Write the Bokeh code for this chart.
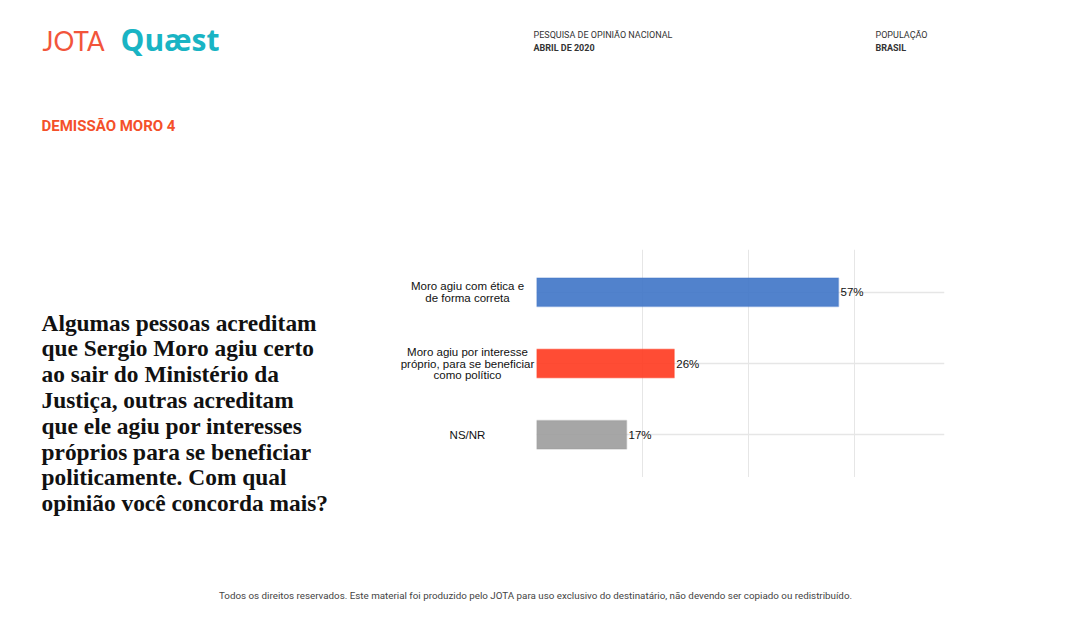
from bokeh.plotting import figure
from bokeh.models import ColumnDataSource, FactorRange, Label, LabelSet, FixedTicker, Range1d
from bokeh.layouts import row, column
from bokeh.core.properties import value
from bokeh.embed import file_html
from bokeh.resources import INLINE

# ---- data ----
categories = [
    "Moro agiu com ética e\nde forma correta",
    "Moro agiu por interesse\npróprio, para se beneficiar\ncomo político",
    "NS/NR",
]
values = [57, 26, 17]
bar_colors = ["#3E74C6", "#FF381E", "#9C9C9C"]
grid_ticks = [0, 20, 40, 60]

question_lines = [
    "Algumas pessoas acreditam",
    "que Sergio Moro agiu certo",
    "ao sair do Ministério da",
    "Justiça, outras acreditam",
    "que ele agiu por interesses",
    "próprios para se beneficiar",
    "politicamente. Com qual",
    "opinião você concorda mais?",
]
title_text = "DEMISSÃO MORO 4"
header_left = ["PESQUISA DE OPINIÃO NACIONAL", "ABRIL DE 2020"]
header_right = ["POPULAÇÃO", "BRASIL"]
footer_text = ("Todos os direitos reservados. Este material foi produzido pelo JOTA para uso "
               "exclusivo do destinatário, não devendo ser copiado ou redistribuído.")

src = ColumnDataSource(dict(
    cat=categories,
    val=values,
    color=bar_colors,
    txt=[f"{v}%" for v in values],
))

# one row per printed line of each category label, each line centred
LINE_H = 11.8
lab_cat, lab_line, lab_off = [], [], []
for c in categories:
    parts = c.split("\n")
    n = len(parts)
    for i, part in enumerate(parts):
        lab_cat.append(c)
        lab_line.append(part)
        lab_off.append(((n - 1) / 2 - i) * LINE_H)
lab_src = ColumnDataSource(dict(cat=lab_cat, line=lab_line, off=lab_off))


def blank(w, h, **kw):
    f = figure(width=w, height=h, output_backend="svg", toolbar_location=None,
               x_range=Range1d(0, 1), y_range=kw.pop("y_range", Range1d(0, 1)),
               min_border=0, **kw)
    f.xaxis.visible = False
    f.yaxis.visible = False
    f.grid.visible = False
    f.outline_line_color = None
    f.background_fill_color = "white"
    f.border_fill_color = "white"
    return f


def lab(f, text, x, y, size, font="Roboto", style="normal", color="#222222",
        align="left"):
    # x, y: pixels from the panel's top-left corner (y = vertical middle of text)
    f.add_layout(Label(x=x, y=f.height - y, x_units="screen", y_units="screen",
                       text=text, text_font=font, text_font_size=size,
                       text_font_style=style, text_color=color,
                       text_align=align, text_baseline="middle"))


# ---- left panel: logos, section title, question ----
L = blank(390, 580)
lab(L, "JOTA", 42, 40, "26px", font="Lato", color="#F2553B")
lab(L, "Quæst", 120, 39, "30px", font="Open Sans", style="bold", color="#19B4C4")
lab(L, title_text, 41, 125, "15px", style="bold", color="#F4502A")
for i, line in enumerate(question_lines):
    lab(L, line, 41, 322 + i * 25.8, "23.4px", font="Liberation Serif", style="bold",
        color="#111111")

# ---- header panel ----
Hd = blank(680, 249)
lab(Hd, header_left[0], 143, 34.5, "9px", color="#333333")
lab(Hd, header_left[1], 143, 47, "9px", style="bold", color="#333333")
lab(Hd, header_right[0], 485, 34.5, "9px", color="#333333")
lab(Hd, header_right[1], 485, 47, "9px", style="bold", color="#333333")

# ---- chart ----
yr = FactorRange(factors=list(reversed(categories)), range_padding=0.0667)
C = figure(width=534, height=228, y_range=yr, x_range=(0, 77),
           output_backend="svg", toolbar_location=None,
           min_border_left=0, min_border_right=126, min_border_top=0, min_border_bottom=0)
C.outline_line_color = None
C.background_fill_color = "white"
C.border_fill_color = "white"
C.xaxis.visible = False
C.yaxis.visible = False
C.xgrid.ticker = FixedTicker(ticks=grid_ticks)
C.xgrid.grid_line_color = "#E6E6E6"
C.ygrid.grid_line_color = "#E6E6E6"
C.ygrid.grid_line_width = 1.5
C.hbar(y="cat", left=0, right="val", height=0.4, fill_color="color",
       fill_alpha=0.9, line_color="color", line_alpha=0.35, line_width=1.5, source=src)
C.add_layout(LabelSet(x="val", y="cat", text="txt", source=src, x_offset=2,
                      text_baseline="middle", text_align="left",
                      text_font=value("Liberation Sans"), text_font_size=value("11.5px"),
                      text_color="#111111"))

# category labels panel sharing the chart's y range
Lab = blank(146, 228, y_range=yr)
Lab.add_layout(LabelSet(x=77, x_units="screen", y="cat", y_offset="off", text="line",
                        source=lab_src, text_baseline="middle", text_align="center",
                        text_font=value("Liberation Sans"), text_font_size=value("11.5px"),
                        text_color="#111111"))

Bot = blank(680, 103)

# ---- footer ----
F = blank(1070, 30)
lab(F, footer_text, 535, 15, "9.8px", color="#444444", align="center")

layout = column(
    row(L, column(Hd, row(Lab, C, spacing=0), Bot, spacing=0), spacing=0),
    F, spacing=0,
)

open("out.html", "w").write(file_html(layout, INLINE))
